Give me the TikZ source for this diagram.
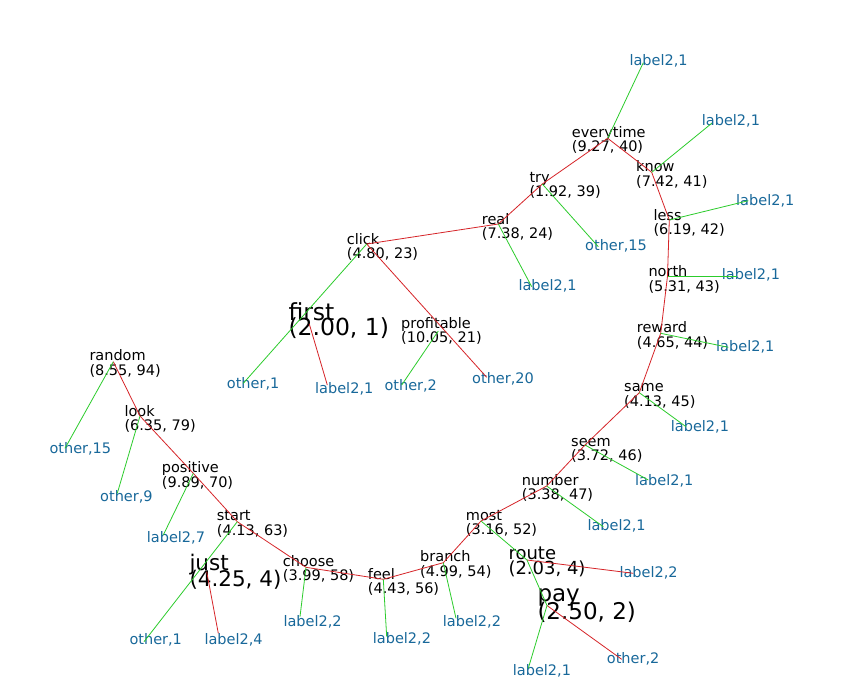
\documentclass[tikz,border=0pt]{standalone}
\usepackage{fontspec}
\setmainfont{DejaVu Sans}
\definecolor{edgered}{RGB}{214,36,40}
\definecolor{edgegreen}{RGB}{44,204,44}
\definecolor{labelblue}{RGB}{24,104,154}

\tikzset{
  txt/.style={anchor=base west, inner sep=0pt, text=black, font=\fontsize{14.5}{14.5}\selectfont},
  leaftxt/.style={txt, text=labelblue},
  redline/.style={draw=edgered, line width=0.8pt},
  greenline/.style={draw=edgegreen, line width=0.8pt},
}

% path node: name, point, text position, word, values, font size, line step
\newcommand\pathnode[7]{%
  \coordinate (#1) at (#2);
  \node[txt, font=\fontsize{#6}{#6}\selectfont] (#1-w) at (#3) {#4};
  \node[txt, font=\fontsize{#6}{#6}\selectfont] (#1-v) at ([yshift=-#7pt]#1-w.base west) {#5};
}
% leaf: name, end point, text position, text
\newcommand\leafnode[4]{%
  \coordinate (#1) at (#2);
  \node[leaftxt] (#1-t) at (#3) {#4};
}

\begin{document}
\begin{tikzpicture}[x=1pt,y=-1pt]
\fill[white] (0,0) rectangle (854,694);
\useasboundingbox (0,0) rectangle (854,694);

% main path
\pathnode{random}{113.3,361.7}{89.3,360.7}{random}{(8.55, 94)}{14.5}{14.5}
\pathnode{look}{140,416}{124.3,416}{look}{(6.35, 79)}{14.5}{14.5}
\pathnode{positive}{193.3,473.3}{161.7,472.7}{positive}{(9.89, 70)}{14.5}{14.5}
\pathnode{start}{237.3,521.7}{216.7,520.7}{start}{(4.13, 63)}{14.5}{14.5}
\pathnode{choose}{306,567.3}{282.7,566}{choose}{(3.99, 58)}{14.5}{14.5}
\pathnode{feel}{383.3,579.3}{367.7,579}{feel}{(4.43, 56)}{14.5}{14.5}
\pathnode{branch}{443.3,562.7}{420,561.7}{branch}{(4.99, 54)}{14.5}{14.5}
\pathnode{most}{481,521}{465.7,520}{most}{(3.16, 52)}{14.5}{14.5}
\pathnode{number}{546.7,486}{521.7,485}{number}{(3.38, 47)}{14.5}{14.5}
\pathnode{seem}{585,445}{571,446}{seem}{(3.72, 46)}{14.5}{14.5}
\pathnode{same}{639.3,392.7}{624,391.7}{same}{(4.13, 45)}{14.5}{14.5}
\pathnode{reward}{660.7,333.3}{636.7,332.7}{reward}{(4.65, 44)}{14.5}{14.5}
\pathnode{north}{667.5,276}{648.3,276.7}{north}{(5.31, 43)}{14.5}{14.5}
\pathnode{less}{669.3,220}{653.3,220}{less}{(6.19, 42)}{14.5}{14.5}
\pathnode{know}{651.7,172.3}{636,171.7}{know}{(7.42, 41)}{14.5}{14.5}
\pathnode{everytime}{607.7,138.3}{571.7,137}{everytime}{(9.27, 40)}{14.5}{14.5}
\pathnode{try}{542.3,184}{529.3,182}{try}{(1.92, 39)}{14.5}{14.5}
\pathnode{real}{498.3,224}{481.7,224}{real}{(7.38, 24)}{14.5}{14.5}
\pathnode{click}{366.7,244}{346.7,244}{click}{(4.80, 23)}{14.5}{14.5}
\pathnode{profitable}{438.3,331}{401,328.3}{profitable}{(10.05, 21)}{14.5}{14.5}
% larger nodes
\pathnode{first}{309.3,324}{288.3,320}{first}{(2.00, 1)}{23.5}{15.5}
\pathnode{just}{206.7,571.7}{189.3,570.7}{just}{(4.25, 4)}{21.5}{16}
\pathnode{route}{527,560}{508.3,559.3}{route}{(2.03, 4)}{18}{15.5}
\pathnode{pay}{547,605.5}{537.3,601.7}{pay}{(2.50, 2)}{23}{17.5}

% leaves
\leafnode{l-random}{65,448.3}{49.3,453}{other,15}
\leafnode{l-look}{117.3,493.3}{100,501.7}{other,9}
\leafnode{l-positive}{163.3,535}{146.7,542.7}{label2,7}
\leafnode{l-start}{144,641.7}{129.3,644}{other,1}
\leafnode{l-just}{218.3,633.3}{204.3,644}{label2,4}
\leafnode{l-choose}{300,616.7}{283.3,626.7}{label2,2}
\leafnode{l-feel}{386.7,636.7}{372.7,643.3}{label2,2}
\leafnode{l-branch}{456,618.3}{442.7,626.7}{label2,2}
\leafnode{l-pay-g}{528.3,668.3}{512.7,675}{label2,1}
\leafnode{l-route}{633.3,573.3}{619.3,577.3}{label2,2}
\leafnode{l-pay-r}{621.7,659.3}{606.7,663.3}{other,2}
\leafnode{l-number}{603.3,526.7}{587.3,530}{label2,1}
\leafnode{l-seem}{648.3,480}{635,485}{label2,1}
\leafnode{l-same}{686,426.7}{670.7,431}{label2,1}
\leafnode{l-reward}{728.3,347.3}{716,351.7}{label2,1}
\leafnode{l-north}{736.7,276}{721.7,279.3}{label2,1}
\leafnode{l-less}{748.3,200.7}{736,205}{label2,1}
\leafnode{l-know}{711.7,123.3}{701.7,125}{label2,1}
\leafnode{l-everytime}{643.3,62.7}{629.3,65}{label2,1}
\leafnode{l-try}{598.3,246.7}{585,250}{other,15}
\leafnode{l-real}{531.7,286.7}{518.3,290.7}{label2,1}
\leafnode{l-click-g}{243.3,383.3}{226.7,388.3}{other,1}
\leafnode{l-click-r}{486.7,377.3}{472,383}{other,20}
\leafnode{l-first}{327.3,385}{315,393.3}{label2,1}
\leafnode{l-profitable}{401.7,385}{384.3,390}{other,2}

% red edges
\draw[redline] (random) -- (look) -- (positive) -- (start) -- (choose) -- (feel)
  -- (branch) -- (most) -- (number) -- (seem) -- (same) -- (reward) -- (north)
  -- (less) -- (know) -- (everytime) -- (try) -- (real) -- (click) -- (l-click-r);
\draw[redline] (first) -- (l-first);
\draw[redline] (just) -- (l-just);
\draw[redline] (route) -- (l-route);
\draw[redline] (pay) -- (l-pay-r);

% green edges
\draw[greenline] (random) -- (l-random);
\draw[greenline] (look) -- (l-look);
\draw[greenline] (positive) -- (l-positive);
\draw[greenline] (start) -- (l-start);
\draw[greenline] (choose) -- (l-choose);
\draw[greenline] (feel) -- (l-feel);
\draw[greenline] (branch) -- (l-branch);
\draw[greenline] (most) -- (route) -- (pay) -- (l-pay-g);
\draw[greenline] (number) -- (l-number);
\draw[greenline] (seem) -- (l-seem);
\draw[greenline] (same) -- (l-same);
\draw[greenline] (reward) -- (l-reward);
\draw[greenline] (north) -- (l-north);
\draw[greenline] (less) -- (l-less);
\draw[greenline] (know) -- (l-know);
\draw[greenline] (everytime) -- (l-everytime);
\draw[greenline] (try) -- (l-try);
\draw[greenline] (real) -- (l-real);
\draw[greenline] (click) -- (l-click-g);
\draw[greenline] (profitable) -- (l-profitable);
\end{tikzpicture}
\end{document}
